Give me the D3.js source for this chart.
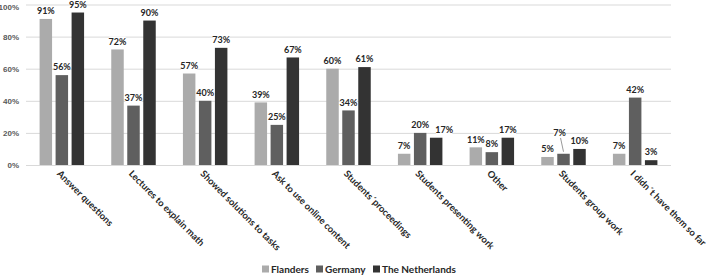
<!DOCTYPE html>
<html>
<head>
<meta charset="utf-8">
<script src="https://cdn.jsdelivr.net/npm/d3@7"></script>
<style>
	body { margin: 0; background: #fff; }
	svg { display: block; font-family: Lato, 'Open Sans', sans-serif; font-weight: bold; }
	.tick text { fill: #595959; font-size: 8px; }
	.cat text { fill: #262626; font-size: 9.4px; }
	.vlabel { fill: #262626; font-size: 9px; }
	.legend text { fill: #262626; font-size: 10px; }
</style>
</head>
<body>
<svg></svg>
<script>
const categories = ['Answer questions', 'Lectures to explain math', 'Showed solutions to tasks',
	'Ask to use online content', 'Students\u00b4proceedings', 'Students presenting work',
	'Other', 'Students group work', 'I didn\u00b4t have them so far'];
const series = ['Flanders', 'Germany', 'The Netherlands'];
const flanders = [91, 72, 57, 39, 60, 7, 11, 5, 7];
const germany = [56, 37, 40, 25, 34, 20, 8, 7, 42];
const netherlands = [95, 90, 73, 67, 61, 17, 17, 10, 3];
const yTicks = [0, 20, 40, 60, 80, 100];
const colors = ['#ababab', '#5f5f5f', '#333333'];

const values = [flanders, germany, netherlands];
const data = categories.map((c, i) => ({
	category: c,
	bars: series.map((s, j) => ({ series: s, value: values[j][i], cat: i }))
}));

// a couple of labels are moved aside in the original so they don't collide
const nudge = { '7-1': [-4, -13], '5-2': [8, 0] };

const width = 708;
const height = 276;
const svg = d3.select('svg').attr('width', width).attr('height', height);

const x0 = d3.scaleBand().domain(categories).range([26, 671]);
const x1 = d3.scaleBand().domain(series).range([-24, 24]).paddingInner(0.22).paddingOuter(0.11);
const y = d3.scaleLinear().domain([0, 100]).range([165, 4.5]);

const yAxis = d3.axisLeft(y)
	.tickValues(yTicks)
	.tickFormat(d => d + '%')
	.tickSize(-(671 - 26))
	.tickPadding(7);

const yAxisGroup = svg.append('g')
	.attr('transform', `translate(26,0)`)
	.call(yAxis);
yAxisGroup.select('.domain').remove();
yAxisGroup.selectAll('.tick line').attr('stroke', '#d9d9d9');
yAxisGroup.selectAll('.tick text').filter(d => d === 100).attr('dy', '0.6em');

const groups = svg.selectAll('g.grp').data(data)
	.enter().append('g')
		.attr('class', 'grp')
		.attr('transform', d => `translate(${x0(d.category) + x0.bandwidth() / 2},0)`);

groups.selectAll('rect').data(d => d.bars)
	.enter().append('rect')
		.attr('x', d => x1(d.series))
		.attr('width', x1.bandwidth())
		.attr('y', d => y(d.value))
		.attr('height', d => y(0) - y(d.value))
		.attr('fill', (d, j) => colors[j]);

// value labels with white backing
const labels = groups.selectAll('g.vl').data(d => d.bars)
	.enter().append('g')
		.attr('class', 'vl')
		.attr('transform', (d, j) => {
			const n = nudge[d.cat + '-' + j] || [0, 0];
			return `translate(${x1(d.series) + x1.bandwidth() / 2 + n[0]},${Math.max(y(d.value) - 8, 4) + n[1]})`;
		});

labels.each(function(d, j) {
	const n = nudge[d.cat + '-' + j];
	if (n && n[1] < 0) {
		d3.select(this).append('line')
			.attr('x1', 1).attr('y1', 5)
			.attr('x2', -n[0]).attr('y2', -n[1] + 6)
			.attr('stroke', '#7f7f7f').attr('stroke-width', 0.8);
	}
});

labels.append('rect')
	.attr('x', d => -(String(d.value).length * 4.6 + 7) / 2)
	.attr('y', -5)
	.attr('width', d => String(d.value).length * 4.6 + 7)
	.attr('height', 10)
	.attr('fill', '#fff');

labels.append('text')
	.attr('class', 'vlabel')
	.attr('text-anchor', 'middle')
	.attr('dy', '0.35em')
	.text(d => d.value + '%');

// category labels, rotated
const cat = svg.append('g').attr('class', 'cat');
cat.selectAll('text').data(categories)
	.enter().append('text')
		.attr('transform', d => `translate(${x0(d) + x0.bandwidth() / 2 - 3},172) rotate(45)`)
		.attr('dy', '0.35em')
		.text(d => d);

// legend
const legendX = [262, 316, 373];
const legend = svg.append('g').attr('class', 'legend');
const li = legend.selectAll('g').data(series)
	.enter().append('g')
		.attr('transform', (d, i) => `translate(${legendX[i]},269)`);
li.append('rect')
	.attr('x', 0).attr('y', -3.5)
	.attr('width', 7).attr('height', 7)
	.attr('fill', (d, i) => colors[i]);
li.append('text')
	.attr('x', 9)
	.attr('dy', '0.35em')
	.text(d => d);
</script>
</body>
</html>
